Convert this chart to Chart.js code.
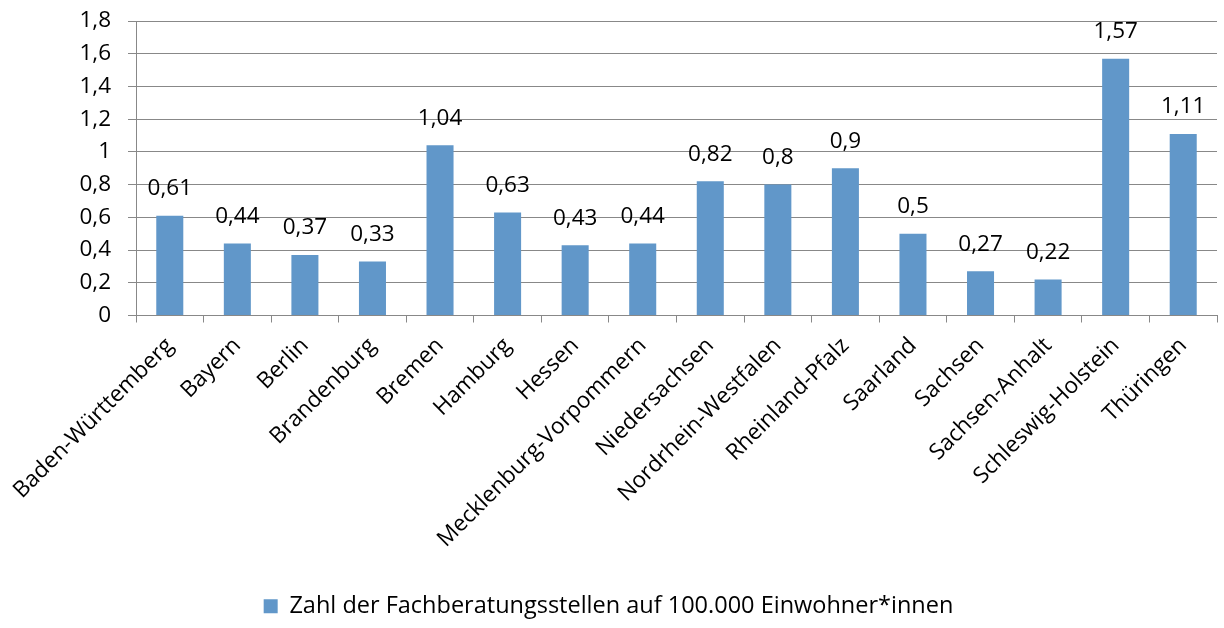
<!DOCTYPE html>
<html><head><meta charset="utf-8">
<script src="https://cdn.jsdelivr.net/npm/chart.js@4/dist/chart.umd.min.js"></script>
<style>html,body{margin:0;padding:0;background:#fff}#wrap{width:1224px;height:628px}</style>
</head><body><div id="wrap"><canvas id="c" width="1224" height="628"></canvas></div>
<script>
const categories = ["Baden-Württemberg","Bayern","Berlin","Brandenburg","Bremen","Hamburg","Hessen","Mecklenburg-Vorpommern","Niedersachsen","Nordrhein-Westfalen","Rheinland-Pfalz","Saarland","Sachsen","Sachsen-Anhalt","Schleswig-Holstein","Thüringen"];
const values = [0.61,0.44,0.37,0.33,1.04,0.63,0.43,0.44,0.82,0.8,0.9,0.5,0.27,0.22,1.57,1.11];
const seriesName = "Zahl der Fachberatungsstellen auf 100.000 Einwohner*innen";
const FONT = "'Open Sans', sans-serif";
const FS = 22.5;
const fmt = v => String(v).replace('.', ',');
const labelPlugin = {
  id: 'vlabels',
  afterDatasetsDraw(chart) {
    const ctx = chart.ctx;
    const meta = chart.getDatasetMeta(0);
    ctx.save();
    ctx.font = FS + "px " + FONT;
    ctx.fillStyle = '#000';
    ctx.textAlign = 'center';
    ctx.textBaseline = 'middle';
    meta.data.forEach((bar, i) => {
      ctx.fillText(fmt(values[i]), bar.x, bar.y - 27);
    });
    ctx.restore();
  }
};
new Chart(document.getElementById('c'), {
  type: 'bar',
  data: { labels: categories, datasets: [{ label: seriesName, data: values, backgroundColor: '#6197C9', barPercentage: 0.4, categoryPercentage: 1 }] },
  options: {
    responsive: false, animation: false,
    layout: { padding: { top: 21, right: 7, left: 0, bottom: 0 } },
    plugins: {
      tooltip: { enabled: false },
      legend: { position: 'bottom', labels: { font: { family: FONT, size: 23.5 }, color: '#000', boxWidth: 14, boxHeight: 14, padding: 10 } }
    },
    scales: {
      x: {
        grid: { display: true, drawOnChartArea: false, tickLength: 7, color: '#888', offset: true },
        border: { color: '#888' },
        ticks: { font: { family: FONT, size: FS }, color: '#000', maxRotation: 45, minRotation: 45, autoSkip: false, padding: 10 },
        afterFit(s) { s.height = 269; }
      },
      y: {
        min: 0, max: 1.8,
        grid: { color: '#888', tickLength: 8 },
        border: { color: '#888' },
        ticks: { stepSize: 0.2, font: { family: FONT, size: FS, lineHeight: 0.3 }, color: '#000', padding: 17, callback: v => fmt(Math.round(v*10)/10) },
        afterFit(s) { s.width = 136; }
      }
    }
  },
  plugins: [labelPlugin]
});
</script></body></html>
